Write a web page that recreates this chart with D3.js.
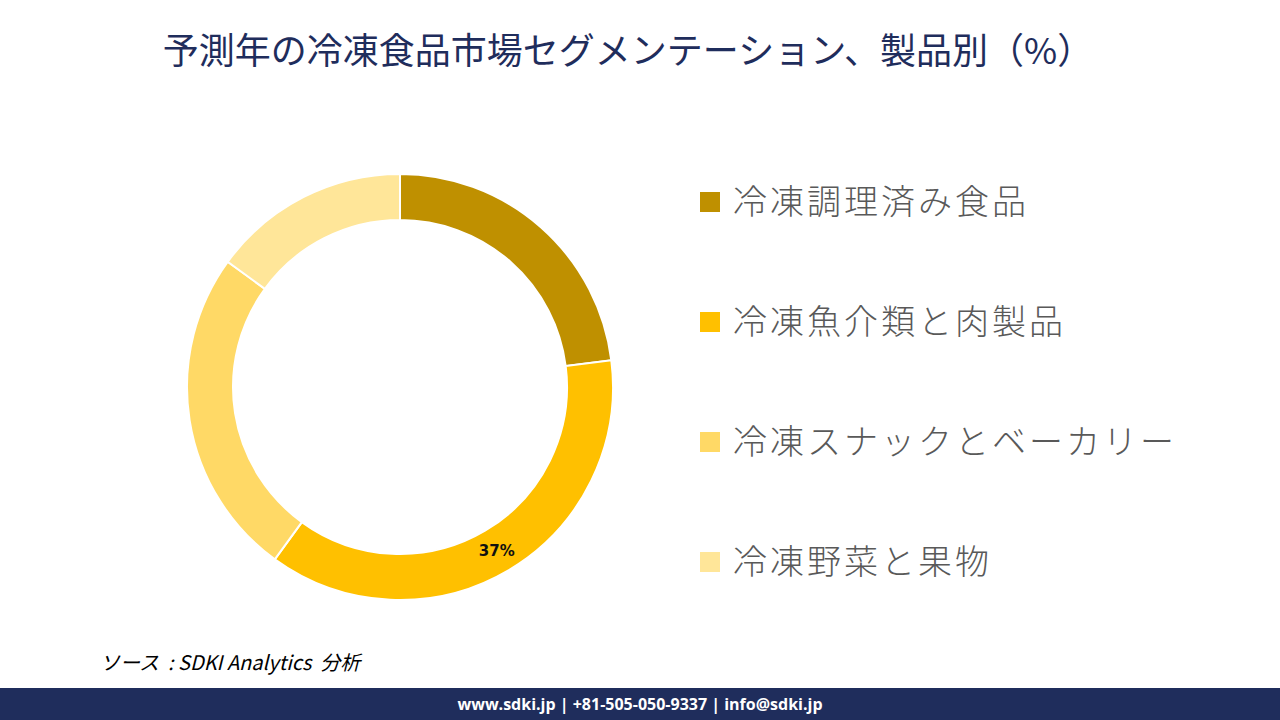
<!DOCTYPE html>
<html><head><meta charset="utf-8">
<script src="https://cdn.jsdelivr.net/npm/d3@7"></script>
<style>
html,body{margin:0;padding:0;background:#fff;}
svg{display:block;}
</style></head>
<body>
<svg id="chart" width="1280" height="720"></svg>
<script>
const categories = ["冷凍調理済み食品", "冷凍魚介類と肉製品", "冷凍スナックとベーカリー", "冷凍野菜と果物"];
const values = [23, 37, 25, 15];
const colors = ["#BF9000", "#FFC000", "#FFD966", "#FFE699"];
const shownLabels = ["", "37%", "", ""];
const title = "予測年の冷凍食品市場セグメンテーション、製品別（%）";
const source = "ソース  : SDKI Analytics  分析";
const footer = "www.sdki.jp | +81-505-050-9337 | info@sdki.jp";

const svg = d3.select("#chart");
const W = 1280, H = 720;

svg.append("text").attr("x", 628).attr("y", 64).attr("text-anchor", "middle")
  .attr("font-family", "'Noto Sans CJK JP', sans-serif").attr("font-size", 36)
  .attr("fill", "#1F2D5C").text(title);

const cx = 400, cy = 387, rOut = 213, rIn = 167;
const pie = d3.pie().value(d => d).sort(null);
const arc = d3.arc().innerRadius(rIn).outerRadius(rOut);
const g = svg.append("g").attr("transform", `translate(${cx},${cy})`);
const arcs = pie(values);
g.selectAll("path").data(arcs).enter().append("path")
  .attr("d", arc).attr("fill", (d, i) => colors[i])
  .attr("stroke", "#fff").attr("stroke-width", 2);

g.selectAll("text.lbl").data(arcs).enter().append("text")
  .attr("class", "lbl")
  .attr("transform", d => {
    const a = (d.startAngle + d.endAngle) / 2;
    const r = (rIn + rOut) / 2;
    return `translate(${Math.sin(a) * r},${-Math.cos(a) * r})`;
  })
  .attr("text-anchor", "middle").attr("dy", "0.35em")
  .attr("font-family", "'DejaVu Sans', sans-serif").attr("font-weight", "bold")
  .attr("font-size", 15).attr("fill", "#111")
  .text((d, i) => shownLabels[i]);

const ly = d3.scalePoint().domain(categories).range([202, 562]);
const lg = svg.append("g");
categories.forEach((c, i) => {
  lg.append("rect").attr("x", 700).attr("y", ly(c) - 10).attr("width", 20).attr("height", 20)
    .attr("fill", colors[i]);
  lg.append("text").attr("x", 733).attr("y", ly(c)).attr("dy", "0.36em")
    .attr("font-family", "'Noto Sans CJK JP', sans-serif").attr("font-weight", 300)
    .attr("font-size", 34).attr("letter-spacing", 3).attr("fill", "#595959").text(c);
});

svg.append("text").attr("x", 100).attr("y", 670)
  .attr("font-family", "'Noto Sans CJK JP', sans-serif").attr("font-style", "italic")
  .attr("font-size", 20).attr("fill", "#000").attr("xml:space", "preserve").text(source);

svg.append("rect").attr("x", 0).attr("y", 688).attr("width", W).attr("height", 32).attr("fill", "#1F2D5C");
svg.append("text").attr("x", 640).attr("y", 710).attr("text-anchor", "middle")
  .attr("font-family", "'Open Sans', sans-serif").attr("font-weight", "bold")
  .attr("font-size", 16).attr("fill", "#fff").text(footer);
</script>
</body></html>
